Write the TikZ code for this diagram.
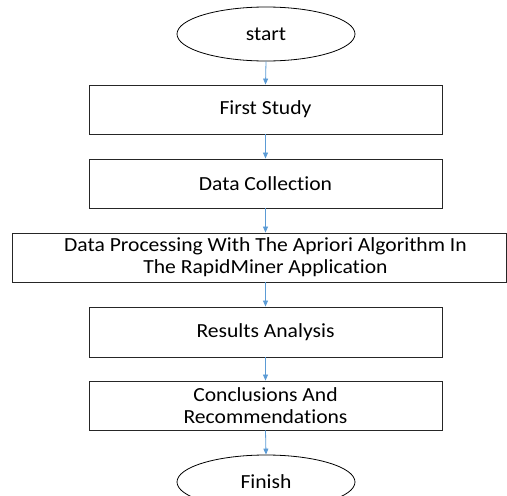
\documentclass[tikz,border=0pt]{standalone}
\usepackage{fontspec}
\setmainfont{Carlito}[Ligatures=NoCommon, FakeStretch=1.08]
\usetikzlibrary{shapes.geometric,arrows.meta}
\definecolor{linkblue}{RGB}{91,155,213}
\definecolor{edge}{RGB}{38,38,38}
\begin{document}
\begin{tikzpicture}[x=1pt,y=1pt,
  txt/.style={font=\fontsize{20}{22}\selectfont, align=center, text=black},
  box/.style={txt, draw=edge, line width=0.9pt, rectangle, inner sep=0pt,
    minimum width=353pt, minimum height=49pt},
  term/.style={txt, draw=black, line width=0.8pt, ellipse, inner sep=0pt,
    minimum width=178pt, minimum height=54pt},
  link/.style={draw=linkblue, line width=0.8pt, -{Triangle[length=6pt,width=5pt]}}
]
\useasboundingbox (0,0) rectangle (507,-496);
\node[term] (start) at (266,-34) {start};
\node[box] (s1) at (265.5,-109.5) {First Study};
\node[box] (s2) at (265.5,-183.5) {Data Collection};
\node[box, minimum width=494pt] (s3) at (259.5,-257.5) {};
\node[txt] (s3text) at (265.5,-257.5) {Data Processing With The Apriori Algorithm In\\The RapidMiner Application};
\node[box, minimum height=50pt] (s4) at (265.5,-332) {Results Analysis};
\node[box] (s5) at (265.5,-405.5) {Conclusions And\\Recommendations};
\node[term] (finish) at (266,-482) {Finish};
\draw[link] (start.south) -- (s1.north);
\draw[link] (s1.south) -- (s2.north);
\draw[link] (s2.south) -- (s2.south |- s3.north);
\draw[link] (s2.south |- s3.south) -- (s4.north);
\draw[link] (s4.south) -- (s5.north);
\draw[link] (s5.south) -- (finish.north);
\end{tikzpicture}
\end{document}
